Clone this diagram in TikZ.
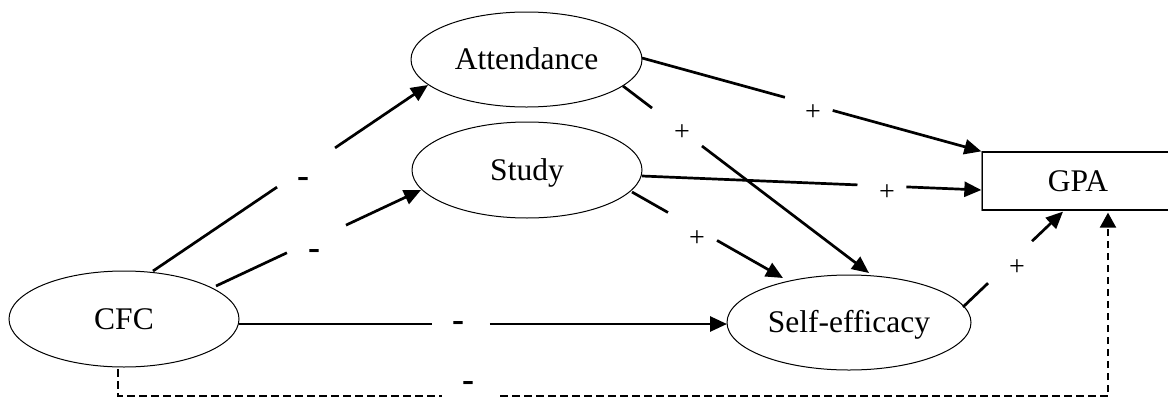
\documentclass[tikz,border=0pt]{standalone}
\usepackage{fontspec}
\setmainfont{Liberation Serif}
\usetikzlibrary{shapes.geometric,arrows.meta,calc}
\begin{document}
\begin{tikzpicture}[x=1pt,y=-1pt,
  ell/.style={draw, line width=1pt, ellipse, inner sep=0pt,
    font=\fontsize{31.5}{36}\selectfont, text height=20.8pt, text depth=0pt},
  boxnode/.style={draw, line width=1.3pt, inner sep=0pt,
    font=\fontsize{31.5}{36}\selectfont, text height=20.8pt, text depth=0pt},
  conn/.style={line width=2.7pt},
  arr/.style={conn, -{Triangle[length=17pt,width=15pt]}},
  plus/.style={anchor=base, font=\fontsize{28}{32}\selectfont, inner sep=0pt},
  minus/.style={anchor=base, font=\fontsize{36}{40}\selectfont\bfseries, inner sep=0pt},
  dsh/.style={line width=2.2pt, dash pattern=on 7.5pt off 4.5pt}
]
\useasboundingbox (0,0) rectangle (1168,397);

% nodes
\node[ell, minimum width=230pt, minimum height=96pt] (CFC) at (124,319) {CFC};
\node[ell, minimum width=231pt, minimum height=95pt] (Att) at (526.5,59.5) {Attendance};
\node[ell, minimum width=230pt, minimum height=96pt] (Study) at (527,170) {Study};
\node[ell, minimum width=244pt, minimum height=95pt] (SE) at (849,322.5) {Self-efficacy};
\node[boxnode, minimum width=192pt, minimum height=58pt] (GPA) at (1078,181) {GPA};
\draw[line width=1.3pt, gray] (GPA.north west) -- (GPA.south west);

% 1 CFC -> Attendance
\coordinate (s1) at ($(CFC)+(29,-48)$);
\coordinate (e1) at ($(Att)+(-98.5,25.5)$);
\path (s1) -- coordinate[pos=.451] (g1a) coordinate[pos=.662] (g1b) (e1);
\draw[conn] (s1) -- (g1a);
\draw[arr] (g1b) -- (e1);
\node[minus] (l1) at (303,187.5) {-};

% 2 CFC -> Study
\coordinate (s2) at ($(CFC)+(92,-33)$);
\coordinate (e2) at ($(Study)+(-106,20)$);
\path (s2) -- coordinate[pos=.346] (g2a) coordinate[pos=.634] (g2b) (e2);
\draw[conn] (s2) -- (g2a);
\draw[arr] (g2b) -- (e2);
\node[minus] (l2) at (314,259.5) {-};

% 3 CFC -> Self-efficacy
\coordinate (s3) at ($(CFC)+(115,5)$);
\coordinate (e3) at ($(SE)+(-122,1.5)$);
\path (s3) -- coordinate[pos=.395] (g3a) coordinate[pos=.514] (g3b) (e3);
\draw[conn] (s3) -- (g3a);
\draw[arr] (g3b) -- (e3);
\node[minus] (l3) at (458,331.5) {-};

% 4 CFC -> GPA (dashed)
\coordinate (d0) at ($(CFC)+(-6,50)$);
\coordinate (dc) at (1108,396);
\coordinate (g4a) at (442,396);
\coordinate (g4b) at (500,396);
\coordinate (dt) at (GPA.south -| dc);
\draw[dsh] (d0) |- (g4a);
\draw[dsh, -{Triangle[length=15pt,width=16pt]}, shorten >=2pt] (g4b) -- (dc) -- (dt);
\node[minus] (l4) at (468,391.5) {-};

% 5 Attendance -> GPA
\coordinate (s5) at ($(Att)+(115.5,-1.5)$);
\coordinate (e5) at (GPA.north west);
\path (s5) -- coordinate[pos=.421] (g5a) coordinate[pos=.562] (g5b) (e5);
\draw[conn] (s5) -- (g5a);
\draw[arr] (g5b) -- (e5);
\node[plus] (l5) at (813,120) {+};

% 6 Attendance -> Self-efficacy
\coordinate (s6) at ($(Att)+(96.5,26.5)$);
\coordinate (e6) at ($(SE)+(20,-49.5)$);
\path (s6) -- coordinate[pos=.118] (g6a) coordinate[pos=.321] (g6b) (e6);
\draw[conn] (s6) -- (g6a);
\draw[arr] (g6b) -- (e6);
\node[plus] (l6) at (682,140) {+};

% 7 Study -> GPA
\coordinate (s7) at ($(Study)+(115,6)$);
\coordinate (e7) at ($(GPA.west)+(0,9)$);
\path (s7) -- coordinate[pos=.635] (g7a) coordinate[pos=.779] (g7b) (e7);
\draw[conn] (s7) -- (g7a);
\draw[arr] (g7b) -- (e7);
\node[plus] (l7) at (887,200) {+};

% 8 Study -> Self-efficacy
\coordinate (s8) at ($(Study)+(105,22)$);
\coordinate (e8) at ($(SE)+(-66,-44.5)$);
\path (s8) -- coordinate[pos=.238] (g8a) coordinate[pos=.563] (g8b) (e8);
\draw[conn] (s8) -- (g8a);
\draw[arr] (g8b) -- (e8);
\node[plus] (l8) at (697,246) {+};

% 9 Self-efficacy -> GPA
\coordinate (s9) at ($(SE)+(114,-15.5)$);
\coordinate (e9) at ($(GPA.south)+(-15,1)$);
\path (s9) -- coordinate[pos=.25] (g9a) coordinate[pos=.69] (g9b) (e9);
\draw[conn] (s9) -- (g9a);
\draw[arr] (g9b) -- (e9);
\node[plus] (l9) at (1017,275) {+};
\end{tikzpicture}
\end{document}
